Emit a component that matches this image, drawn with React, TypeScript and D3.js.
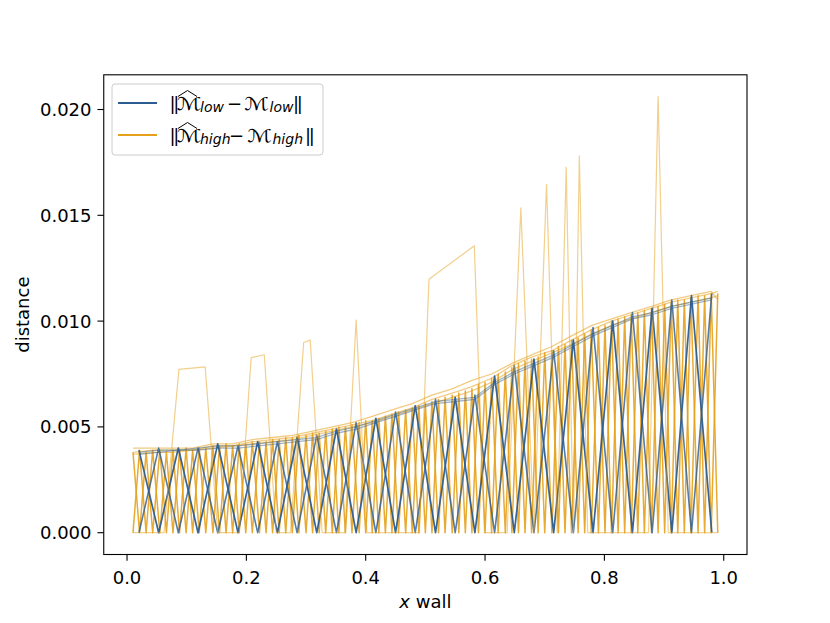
import React, { useEffect, useRef } from 'react';
import * as d3 from 'd3';

// low fidelity sample positions and the peak distance read at each one
const lowX = [0.020, 0.053, 0.086, 0.119, 0.152, 0.186, 0.219, 0.252, 0.285, 0.318,
  0.351, 0.384, 0.417, 0.450, 0.483, 0.517, 0.550, 0.583, 0.616, 0.649,
  0.682, 0.715, 0.748, 0.781, 0.814, 0.847, 0.880, 0.913, 0.946, 0.980];
const lowPeak = [0.0039, 0.0040, 0.0040, 0.0040, 0.0042, 0.0041, 0.0043, 0.0043, 0.0045, 0.0046,
  0.0049, 0.0052, 0.0054, 0.0057, 0.0060, 0.0063, 0.0064, 0.0065, 0.0074, 0.0079,
  0.0082, 0.0086, 0.0091, 0.0097, 0.0100, 0.0104, 0.0106, 0.0110, 0.0112, 0.0113];
const lowRidgeA = [0.0038, 0.0039, 0.0039, 0.0040, 0.0041, 0.0041, 0.0042, 0.0043, 0.0044, 0.0045,
  0.0048, 0.0050, 0.0053, 0.0056, 0.0059, 0.0062, 0.0063, 0.0064, 0.0071, 0.0076,
  0.0080, 0.0084, 0.0089, 0.0094, 0.0098, 0.0102, 0.0104, 0.0107, 0.0109, 0.0111];
const lowRidgeB = [0.0037, 0.0038, 0.0039, 0.0039, 0.0040, 0.0040, 0.0041, 0.0042, 0.0043, 0.0044,
  0.0047, 0.0049, 0.0052, 0.0055, 0.0058, 0.0061, 0.0062, 0.0063, 0.0070, 0.0075,
  0.0079, 0.0083, 0.0088, 0.0093, 0.0097, 0.0101, 0.0103, 0.0106, 0.0108, 0.0110];

// high fidelity sample positions and peaks
const highX = [0.010, 0.021, 0.032, 0.043, 0.055, 0.066, 0.077, 0.088, 0.099, 0.110,
  0.121, 0.132, 0.144, 0.155, 0.166, 0.177, 0.188, 0.199, 0.210, 0.222,
  0.233, 0.244, 0.255, 0.266, 0.277, 0.288, 0.300, 0.311, 0.322, 0.333,
  0.344, 0.355, 0.366, 0.377, 0.389, 0.400, 0.411, 0.422, 0.433, 0.444,
  0.455, 0.467, 0.478, 0.489, 0.500, 0.511, 0.522, 0.533, 0.545, 0.556,
  0.567, 0.578, 0.589, 0.600, 0.611, 0.622, 0.634, 0.645, 0.656, 0.667,
  0.678, 0.689, 0.700, 0.712, 0.723, 0.734, 0.745, 0.756, 0.767, 0.778,
  0.790, 0.801, 0.812, 0.823, 0.834, 0.845, 0.856, 0.867, 0.879, 0.890,
  0.901, 0.912, 0.923, 0.934, 0.945, 0.957, 0.968, 0.979, 0.990];
const highPeak = [0.0038, 0.0039, 0.0038, 0.0039, 0.0039, 0.0038, 0.0039, 0.0039, 0.0040, 0.0039,
  0.0040, 0.0040, 0.0041, 0.0041, 0.0042, 0.0041, 0.0042, 0.0042, 0.0043, 0.0043,
  0.0043, 0.0044, 0.0044, 0.0045, 0.0045, 0.0046, 0.0046, 0.0047, 0.0047, 0.0048,
  0.0049, 0.0050, 0.0050, 0.0051, 0.0052, 0.0053, 0.0053, 0.0054, 0.0055, 0.0056,
  0.0057, 0.0058, 0.0059, 0.0060, 0.0061, 0.0062, 0.0063, 0.0064, 0.0065, 0.0066,
  0.0067, 0.0068, 0.0070, 0.0071, 0.0073, 0.0075, 0.0076, 0.0078, 0.0080, 0.0081,
  0.0082, 0.0083, 0.0085, 0.0086, 0.0088, 0.0089, 0.0091, 0.0092, 0.0094, 0.0096,
  0.0097, 0.0098, 0.0100, 0.0101, 0.0102, 0.0103, 0.0104, 0.0105, 0.0106, 0.0107,
  0.0108, 0.0109, 0.0110, 0.0110, 0.0111, 0.0112, 0.0112, 0.0113, 0.0113];

const ridgeX = [0.010, 0.043, 0.077, 0.110, 0.144, 0.177, 0.210, 0.244, 0.277, 0.311,
  0.344, 0.377, 0.411, 0.444, 0.478, 0.511, 0.545, 0.578, 0.611, 0.645,
  0.678, 0.712, 0.745, 0.779, 0.812, 0.845, 0.879, 0.912, 0.945, 0.979, 0.990];
const highRidgeA = [0.0038, 0.0039, 0.0039, 0.0039, 0.0041, 0.0041, 0.0043, 0.0044, 0.0045, 0.0047,
  0.0049, 0.0051, 0.0053, 0.0056, 0.0059, 0.0063, 0.0066, 0.0069, 0.0073, 0.0079,
  0.0083, 0.0086, 0.0091, 0.0096, 0.0100, 0.0103, 0.0106, 0.0109, 0.0111, 0.0113, 0.0114];
const highRidgeB = [0.0037, 0.0038, 0.0038, 0.0039, 0.0040, 0.0041, 0.0042, 0.0043, 0.0044, 0.0046,
  0.0048, 0.0050, 0.0052, 0.0055, 0.0058, 0.0061, 0.0064, 0.0067, 0.0071, 0.0077,
  0.0081, 0.0085, 0.0089, 0.0094, 0.0098, 0.0101, 0.0104, 0.0107, 0.0109, 0.0111, 0.0112];
const highRidgeC = [0.0040, 0.0040, 0.0040, 0.0040, 0.0042, 0.0042, 0.0044, 0.0045, 0.0046, 0.0048,
  0.0050, 0.0052, 0.0055, 0.0058, 0.0061, 0.0065, 0.0068, 0.0072, 0.0075, 0.0080,
  0.0084, 0.0088, 0.0093, 0.0098, 0.0101, 0.0104, 0.0107, 0.0110, 0.0112, 0.0114, 0.0110];

// one high fidelity run with outliers
const spikeX = [0.010, 0.062, 0.087, 0.131, 0.152, 0.188, 0.208, 0.230, 0.250, 0.274,
  0.296, 0.307, 0.327, 0.365, 0.384, 0.402, 0.490, 0.506, 0.582, 0.599,
  0.637, 0.660, 0.682, 0.703, 0.721, 0.736, 0.748, 0.758, 0.772, 0.874,
  0.890, 0.907, 0.990];
const spikeY = [0, 0, 0.00772, 0.00784, 0, 0, 0.00827, 0.00841, 0, 0,
  0.00899, 0.00910, 0, 0, 0.01005, 0, 0, 0.01198, 0.01356, 0,
  0, 0.01535, 0, 0.01646, 0, 0.01727, 0, 0.01781, 0, 0,
  0.02061, 0, 0];

const xTicks = [0, 0.2, 0.4, 0.6, 0.8, 1.0];
const yTicks = [0, 0.005, 0.010, 0.015, 0.020];

const LOW_COLOR = '#2b5d93';
const HIGH_COLOR = '#e6a11c';
const FONT = 'DejaVu Sans, sans-serif';

export default function App() {
  const svgRef = useRef<SVGSVGElement>(null);

  useEffect(() => {
    if (!svgRef.current) return;
    document.body.style.margin = '0';
    const svg = d3.select(svgRef.current);
    svg.selectAll('*').remove();

    const plot = { left: 103.75, right: 747, top: 74.8, bottom: 554.5 };

    // matplotlib-style 5% margins
    const allX = [...lowX, ...highX, ...spikeX];
    const allY = [...lowPeak, ...highPeak, ...spikeY, ...highRidgeC];
    const [xMin, xMax] = d3.extent(allX) as [number, number];
    const [yMin, yMax] = d3.extent(allY) as [number, number];
    const xPad = (xMax - xMin) * 0.05;
    const yPad = (yMax - yMin) * 0.05;

    const x = d3.scaleLinear().domain([xMin - xPad, xMax + xPad]).range([plot.left, plot.right]);
    const y = d3.scaleLinear().domain([yMin - yPad, yMax + yPad]).range([plot.bottom, plot.top]);

    const line = d3.line<[number, number]>()
      .x(d => x(d[0]))
      .y(d => y(d[1]));

    const g = svg.append('g');
    const draw = (xs: number[], ys: number[], color: string, opacity: number, width = 1.2) => {
      g.append('path')
        .datum(xs.map((v, i) => [v, ys[i]] as [number, number]))
        .attr('fill', 'none')
        .attr('stroke', color)
        .attr('stroke-opacity', opacity)
        .attr('stroke-width', width)
        .attr('stroke-linejoin', 'round')
        .attr('d', line);
    };

    // zigzag runs: each run is at its peak on alternate samples and zero in between
    const lowZigA = lowPeak.map((v, i) => (i % 2 === 0 ? v : 0));
    const lowZigB = lowPeak.map((v, i) => (i % 2 === 1 ? v : 0));
    const highZigA = highPeak.map((v, i) => (i % 2 === 0 ? v : 0));
    const highZigB = highPeak.map((v, i) => (i % 2 === 1 ? v : 0));

    draw(ridgeX, highRidgeA, HIGH_COLOR, 0.55, 1.3);
    draw(ridgeX, highRidgeB, HIGH_COLOR, 0.55, 1.3);
    draw(ridgeX, highRidgeC, HIGH_COLOR, 0.55, 1.3);
    draw(highX, highZigA, HIGH_COLOR, 0.9, 1.5);
    draw(highX, highZigB, HIGH_COLOR, 0.9, 1.5);
    draw(lowX, lowRidgeA, LOW_COLOR, 0.45, 1.3);
    draw(lowX, lowRidgeB, LOW_COLOR, 0.45, 1.3);
    draw(lowX, lowZigB, LOW_COLOR, 0.8, 1.6);
    draw(lowX, lowZigA, LOW_COLOR, 0.95, 1.7);
    draw(spikeX, spikeY, HIGH_COLOR, 0.5, 1.2);

    // spines
    svg.append('rect')
      .attr('x', plot.left).attr('y', plot.top)
      .attr('width', plot.right - plot.left).attr('height', plot.bottom - plot.top)
      .attr('fill', 'none').attr('stroke', '#000').attr('stroke-width', 1.1);

    // ticks
    const ax = svg.append('g').attr('font-family', FONT).attr('font-size', 18).attr('fill', '#000');
    xTicks.forEach(t => {
      ax.append('line').attr('x1', x(t)).attr('x2', x(t))
        .attr('y1', plot.bottom).attr('y2', plot.bottom + 6.3)
        .attr('stroke', '#000').attr('stroke-width', 1.1);
      ax.append('text').attr('x', x(t)).attr('y', 583.5)
        .attr('text-anchor', 'middle').text(d3.format('.1f')(t));
    });
    yTicks.forEach(t => {
      ax.append('line').attr('x1', plot.left - 6.3).attr('x2', plot.left)
        .attr('y1', y(t)).attr('y2', y(t))
        .attr('stroke', '#000').attr('stroke-width', 1.1);
      ax.append('text').attr('x', 91.5).attr('y', y(t)).attr('dy', '0.36em')
        .attr('text-anchor', 'end').text(d3.format('.3f')(t));
    });

    // axis labels
    const xl = ax.append('text').attr('x', (plot.left + plot.right) / 2).attr('y', 607.5)
      .attr('text-anchor', 'middle');
    xl.append('tspan').attr('font-style', 'italic').text('x');
    xl.append('tspan').text(' wall');
    ax.append('text')
      .attr('transform', `translate(29,${(plot.top + plot.bottom) / 2}) rotate(-90)`)
      .attr('text-anchor', 'middle').text('distance');

    // legend
    const lg = svg.append('g').attr('font-family', FONT);
    lg.append('rect').attr('x', 112).attr('y', 84).attr('width', 211).attr('height', 71)
      .attr('rx', 3).attr('fill', '#fff').attr('fill-opacity', 0.8)
      .attr('stroke', '#cccccc').attr('stroke-width', 1);

    const rows = [
      { color: LOW_COLOR, sub: 'low', y: 103, minus: 234.5, m2: 244, sub2: 269.5, bars: 293 },
      { color: HIGH_COLOR, sub: 'high', y: 135, minus: 236.5, m2: 247, sub2: 272.5, bars: 305 }
    ];
    rows.forEach(r => {
      const base = r.y + 6.5;
      lg.append('line').attr('x1', 118).attr('x2', 157).attr('y1', r.y).attr('y2', r.y)
        .attr('stroke', r.color).attr('stroke-width', 2.2);
      const bars = (bx: number) => lg.append('text').attr('x', bx).attr('y', base)
        .attr('font-size', 18).attr('letter-spacing', -2.4).text('||');
      const script = (mx: number) => lg.append('text')
        .attr('transform', `translate(${mx},${base}) scale(1.3,1)`)
        .attr('font-size', 18).text('\u2133');
      bars(169.5);
      script(176.5);
      lg.append('path')
        .attr('d', `M178,${base - 13} L187.5,${base - 19} L197,${base - 13}`)
        .attr('fill', 'none').attr('stroke', '#000').attr('stroke-width', 1);
      lg.append('text').attr('x', 200).attr('y', base + 2.5).attr('font-size', 14)
        .attr('font-style', 'italic').text(r.sub);
      lg.append('text').attr('x', r.minus).attr('y', base).attr('font-size', 18)
        .attr('text-anchor', 'middle').text('\u2212');
      script(r.m2);
      lg.append('text').attr('x', r.sub2).attr('y', base + 2.5).attr('font-size', 14)
        .attr('font-style', 'italic').text(r.sub);
      bars(r.bars);
    });
  }, []);

  return <svg ref={svgRef} width={830} height={623} style={{ display: 'block', background: '#fff' }} />;
}
